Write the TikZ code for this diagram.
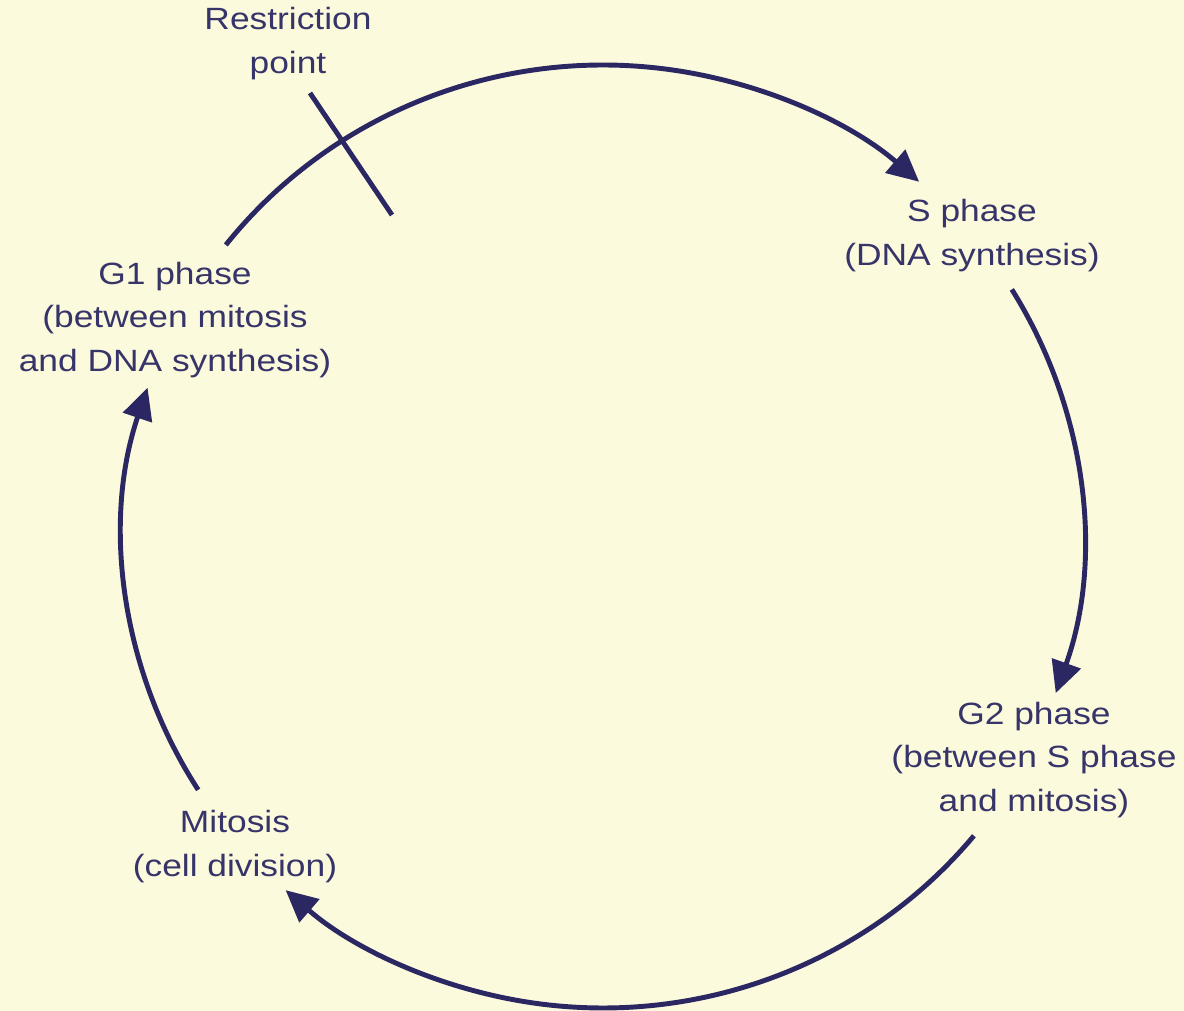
\documentclass[tikz,border=0pt]{standalone}
\usepackage{fontspec}
\setmainfont{Liberation Sans}[FakeStretch=1.15]
\usepackage{tikz}
\usetikzlibrary{calc,arrows.meta}
\definecolor{bg}{HTML}{FCFADD}
\definecolor{ink}{HTML}{2B2762}
\definecolor{txt}{HTML}{363468}
\tikzset{
  cyc/.style={draw=ink, line width=2.8pt, -{Triangle[length=18pt,width=17pt]}},
  plain/.style={draw=ink, line width=2.8pt},
  lab/.style={text=txt, align=center, font=\fontsize{17.5}{25}\selectfont, inner sep=0pt}
}
\begin{document}
\begin{tikzpicture}[x=0.02cm, y=0.02cm]
  \fill[bg] (0,0) rectangle (1184,1011);
  \useasboundingbox (0,0) rectangle (1184,1011);

  \def\rx{480}
  \def\ry{471.5}
  \coordinate (C) at (603,474.5);

  \node[lab] (restrict) at (288,967) {Restriction\\point};
  \node[lab] (sphase) at (972,775.5) {S phase\\(DNA synthesis)};
  \node[lab] (gtwo) at (1034,251) {G2 phase\\(between S phase\\and mitosis)};
  \node[lab] (mitosis) at (235,164) {Mitosis\\(cell division)};
  \node[lab] (gone) at (175,691) {G1 phase\\(between mitosis\\and DNA synthesis)};

  \coordinate (g1out) at ($(C)+(141.8:{\rx} and {\ry})$);
  \coordinate (sout) at ($(C)+(31.6:{\rx} and {\ry})$);
  \coordinate (g2out) at ($(C)+(-39.4:{\rx} and {\ry})$);
  \coordinate (mout) at ($(C)+(212.5:{\rx} and {\ry})$);

  \draw[cyc] (g1out) arc[start angle=141.8, end angle=48.8, x radius=\rx, y radius=\ry];
  \draw[cyc] (sout) arc[start angle=31.6, end angle=-19.4, x radius=\rx, y radius=\ry];
  \draw[cyc] (g2out) arc[start angle=-39.4, end angle=-131.4, x radius=\rx, y radius=\ry];
  \draw[cyc] (mout) arc[start angle=212.5, end angle=161.6, x radius=\rx, y radius=\ry];

  \coordinate (rtop) at (310,918);
  \coordinate (rbot) at (392,796);
  \draw[plain] (rtop) -- (rbot);
\end{tikzpicture}
\end{document}
